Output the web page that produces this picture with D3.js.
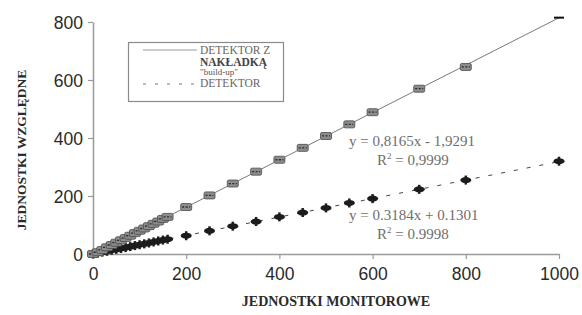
<!DOCTYPE html>
<html>
<head>
<meta charset="utf-8">
<script src="https://cdn.jsdelivr.net/npm/d3@7"></script>
<style>
  body { margin: 0; background: #fff; }
  svg { display: block; }
</style>
</head>
<body>
<div id="main"></div>
<script>
// monitor units (x) and measured relative units for both detectors
var monitorUnits = [0, 10, 20, 30, 40, 50, 60, 70, 80, 90, 100, 110, 120, 130, 140, 150, 160,
  200, 250, 300, 350, 400, 450, 500, 550, 600, 700, 800, 1000];
var buildUp = [0, 6, 14, 23, 31, 39, 47, 55, 63, 72, 80, 88, 96, 104, 112, 121, 128,
  162, 202, 243, 284, 325, 366, 407, 447, 489, 570, 645, 815];
var detector = [0, 3, 6.5, 9.5, 13, 16, 19, 22, 25.5, 29, 32, 35, 38, 41.5, 45, 48, 51,
  63, 80, 96, 112, 128, 143, 159, 176, 191, 223, 255, 320];

var xTicks = [0, 200, 400, 600, 800, 1000];
var yTicks = [0, 200, 400, 600, 800];

var fitBuildUp = { slope: 0.8165, icpt: -1.9291, eq: 'y = 0,8165x - 1,9291', r2: ' = 0,9999' };
var fitDetector = { slope: 0.3184, icpt: 0.1301, eq: 'y = 0.3184x + 0.1301', r2: ' = 0.9998' };

var width = 582, height = 315;
var margin = { top: 22, right: 23, bottom: 61, left: 93 };

var svg = d3.select('#main').append('svg')
  .attr('width', width)
  .attr('height', height);

var x = d3.scaleLinear().domain([0, 1000]).range([margin.left, width - margin.right]);
var y = d3.scaleLinear().domain([0, 800]).range([height - margin.bottom, margin.top]);

// axes
var axisColor = '#9a9a9a';
var xAxis = svg.append('g')
  .attr('transform', 'translate(0,' + y(0) + ')')
  .call(d3.axisBottom(x).tickValues(xTicks).tickFormat(d3.format('d')).tickSize(5).tickSizeOuter(0));
var yAxis = svg.append('g')
  .attr('transform', 'translate(' + x(0) + ',0)')
  .call(d3.axisLeft(y).tickValues(yTicks).tickFormat(d3.format('d')).tickSize(5).tickSizeOuter(0));

[xAxis, yAxis].forEach(function(g) {
  g.select('.domain').attr('stroke', axisColor).attr('stroke-width', 1.5);
  g.selectAll('.tick line').attr('stroke', axisColor).attr('stroke-width', 1.2);
  g.selectAll('.tick text')
    .attr('fill', '#2a2a2a')
    .attr('font-family', '"Liberation Sans", Arial, sans-serif')
    .attr('font-size', 17.5);
});
xAxis.selectAll('.tick text').attr('dy', '1.05em');
yAxis.selectAll('.tick text').attr('x', -10).attr('dy', '0.36em');

// trend lines
svg.append('line')
  .attr('x1', x(0)).attr('y1', y(fitBuildUp.icpt))
  .attr('x2', x(1000)).attr('y2', y(fitBuildUp.slope * 1000 + fitBuildUp.icpt))
  .attr('stroke', '#7a7a7a').attr('stroke-width', 1);

svg.append('line')
  .attr('x1', x(0)).attr('y1', y(fitDetector.icpt))
  .attr('x2', x(1000)).attr('y2', y(fitDetector.slope * 1000 + fitDetector.icpt))
  .attr('stroke', '#444').attr('stroke-width', 1)
  .attr('stroke-dasharray', '4,9');

// detector markers (black)
var detPts = svg.append('g').selectAll('g')
  .data(monitorUnits.map(function(m, i) { return [m, detector[i]]; }))
  .enter().append('g')
  .attr('transform', function(d) { return 'translate(' + x(d[0]) + ',' + y(d[1]) + ')'; });
detPts.append('ellipse').attr('rx', 5.5).attr('ry', 3).attr('fill', '#1c1c1c');
detPts.append('line').attr('x1', 0).attr('x2', 0).attr('y1', -4.5).attr('y2', 4.5)
  .attr('stroke', '#1c1c1c').attr('stroke-width', 2.5);

// build-up markers (gray boxes)
var bu = monitorUnits.map(function(m, i) { return [m, buildUp[i]]; });
var buPts = svg.append('g').selectAll('g')
  .data(bu)
  .enter().append('g')
  .attr('transform', function(d) { return 'translate(' + x(d[0]) + ',' + y(d[1]) + ')'; });
buPts.each(function(d, i) {
  var g = d3.select(this);
  if (i === bu.length - 1) {
    g.append('rect').attr('x', -5).attr('y', -1).attr('width', 10).attr('height', 2).attr('fill', '#111');
    return;
  }
  g.append('rect').attr('x', -5.5).attr('y', -3.5).attr('width', 11).attr('height', 7)
    .attr('rx', 1.5).attr('fill', '#8c8c8c').attr('stroke', '#4a4a4a').attr('stroke-width', 0.8);
  g.append('line').attr('x1', -4).attr('x2', 4).attr('y1', 0).attr('y2', 0)
    .attr('stroke', '#2a2a2a').attr('stroke-width', 1.3).attr('stroke-dasharray', '2,1.5');
});

// equations
var serif = '"Liberation Serif", "Times New Roman", serif';
function equation(fit, xPos, yPos) {
  svg.append('text').attr('x', xPos).attr('y', yPos)
    .attr('font-family', serif).attr('font-size', 15).attr('fill', '#6e6e6e')
    .text(fit.eq);
  var r = svg.append('text').attr('x', xPos + 28).attr('y', yPos + 19)
    .attr('font-family', serif).attr('font-size', 15).attr('fill', '#6e6e6e');
  r.append('tspan').text('R');
  r.append('tspan').attr('font-size', 9).attr('dy', -6).text('2');
  r.append('tspan').attr('dy', 6).text(fit.r2);
}
equation(fitBuildUp, 349, 146);
equation(fitDetector, 349, 220);

// legend
var lg = svg.append('g');
lg.append('rect').attr('x', 128.5).attr('y', 42.5).attr('width', 155).attr('height', 59)
  .attr('fill', '#fff').attr('stroke', '#8a8a8a').attr('stroke-width', 1.2);
lg.append('line').attr('x1', 143).attr('x2', 197).attr('y1', 50).attr('y2', 50)
  .attr('stroke', '#9a9a9a').attr('stroke-width', 1.2);
lg.append('line').attr('x1', 143).attr('x2', 197).attr('y1', 84).attr('y2', 84)
  .attr('stroke', '#777').attr('stroke-width', 1.2).attr('stroke-dasharray', '3,9');
lg.append('text').attr('x', 200).attr('y', 54).attr('font-family', serif).attr('font-size', 11.5)
  .attr('fill', '#666').text('DETEKTOR Z');
lg.append('text').attr('x', 200).attr('y', 66).attr('font-family', serif).attr('font-size', 11.5)
  .attr('font-weight', 'bold').attr('fill', '#444').text('NAKŁADKĄ');
lg.append('text').attr('x', 200).attr('y', 75).attr('font-family', serif).attr('font-size', 9)
  .attr('fill', '#555').text('"build-up"');
lg.append('text').attr('x', 200).attr('y', 87).attr('font-family', serif).attr('font-size', 11.5)
  .attr('fill', '#666').text('DETEKTOR');

// axis titles
svg.append('text')
  .attr('x', (x(0) + x(1000)) / 2 + 10).attr('y', 306)
  .attr('text-anchor', 'middle')
  .attr('font-family', serif).attr('font-weight', 'bold').attr('font-size', 14)
  .attr('fill', '#2a2a2a')
  .text('JEDNOSTKI MONITOROWE');

svg.append('text')
  .attr('transform', 'translate(26,150) rotate(-90)')
  .attr('text-anchor', 'middle')
  .attr('font-family', serif).attr('font-weight', 'bold').attr('font-size', 13.5)
  .attr('fill', '#2a2a2a')
  .text('JEDNOSTKI WZGLĘDNE');
</script>
</body>
</html>
